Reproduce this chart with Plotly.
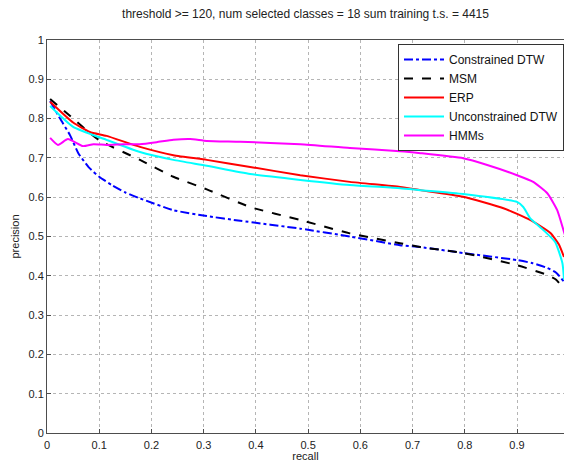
import plotly.graph_objects as go

# ---- data ----
recall_cdtw = [0.006, 0.025, 0.044, 0.06, 0.08, 0.10, 0.125, 0.15, 0.178, 0.242, 0.306, 0.37, 0.485, 0.58, 0.676, 0.715, 0.797, 0.9, 0.93, 0.958, 0.975, 0.99]
prec_cdtw = [0.845, 0.80, 0.758, 0.712, 0.676, 0.652, 0.63, 0.612, 0.597, 0.567, 0.552, 0.54, 0.52, 0.50, 0.478, 0.473, 0.458, 0.44, 0.432, 0.42, 0.408, 0.385]

recall_msm = [0.006, 0.05, 0.1, 0.178, 0.242, 0.306, 0.389, 0.485, 0.58, 0.676, 0.715, 0.797, 0.9, 0.958, 0.975, 0.99]
prec_msm = [0.85, 0.80, 0.745, 0.695, 0.652, 0.62, 0.575, 0.542, 0.508, 0.483, 0.473, 0.458, 0.427, 0.402, 0.39, 0.365]

recall_erp = [0.006, 0.05, 0.082, 0.114, 0.178, 0.242, 0.306, 0.389, 0.485, 0.58, 0.676, 0.715, 0.797, 0.874, 0.925, 0.964, 0.98, 0.99]
prec_erp = [0.843, 0.79, 0.766, 0.756, 0.728, 0.707, 0.695, 0.677, 0.656, 0.639, 0.626, 0.618, 0.601, 0.572, 0.542, 0.509, 0.48, 0.448]

recall_udtw = [0.006, 0.05, 0.114, 0.178, 0.242, 0.306, 0.389, 0.485, 0.58, 0.676, 0.715, 0.797, 0.9, 0.912, 0.925, 0.95, 0.973, 0.987, 0.99]
prec_udtw = [0.832, 0.779, 0.746, 0.715, 0.695, 0.68, 0.659, 0.644, 0.631, 0.623, 0.618, 0.608, 0.588, 0.575, 0.547, 0.517, 0.486, 0.432, 0.39]

recall_hmm = [0.006, 0.021, 0.04, 0.069, 0.089, 0.114, 0.146, 0.178, 0.21, 0.242, 0.274, 0.306, 0.37, 0.485, 0.58, 0.676, 0.715, 0.797, 0.843, 0.9, 0.931, 0.958, 0.977, 0.989, 0.995]
prec_hmm = [0.751, 0.733, 0.748, 0.730, 0.735, 0.733, 0.735, 0.735, 0.74, 0.746, 0.748, 0.743, 0.741, 0.735, 0.725, 0.717, 0.712, 0.699, 0.682, 0.656, 0.639, 0.61, 0.567, 0.516, 0.49]

x_ticks = [0, 0.1, 0.2, 0.3, 0.4, 0.5, 0.6, 0.7, 0.8, 0.9]
x_tick_labels = ["0", "0.1", "0.2", "0.3", "0.4", "0.5", "0.6", "0.7", "0.8", "0.9"]
y_ticks = [0, 0.1, 0.2, 0.3, 0.4, 0.5, 0.6, 0.7, 0.8, 0.9, 1]
y_tick_labels = ["0", "0.1", "0.2", "0.3", "0.4", "0.5", "0.6", "0.7", "0.8", "0.9", "1"]

series = [
    ("Constrained DTW", recall_cdtw, prec_cdtw, "#0000ff", "dashdot"),
    ("MSM", recall_msm, prec_msm, "#000000", "dash"),
    ("ERP", recall_erp, prec_erp, "#ff0000", "solid"),
    ("Unconstrained DTW", recall_udtw, prec_udtw, "#00ffff", "solid"),
    ("HMMs", recall_hmm, prec_hmm, "#ff00ff", "solid"),
]

FONT = "Liberation Sans, Arial, sans-serif"

fig = go.Figure()
for name, x, y, color, dash in series:
    fig.add_trace(go.Scatter(
        x=x, y=y, mode="lines", name=name,
        line=dict(color=color, width=2, dash=dash, shape="spline", smoothing=0.5),
    ))

axis_color = "#4d4d4d"
fig.update_layout(
    width=564, height=462,
    margin=dict(l=47, r=0, t=40, b=29),
    paper_bgcolor="white", plot_bgcolor="white",
    font=dict(family=FONT, size=11, color="#222222"),
    title=dict(
        text="threshold >= 120, num selected classes = 18 sum training t.s. = 4415",
        x=0.5, xref="paper", xanchor="center",
        y=1 - 14 / 462, yref="container", yanchor="middle",
        font=dict(family=FONT, size=12, color="#222222"),
    ),
    showlegend=True,
    legend=dict(
        x=1.0, y=0.99, xanchor="right", yanchor="top",
        bgcolor="white", bordercolor="#333333", borderwidth=1,
        font=dict(family=FONT, size=12, color="#111111"),
        itemwidth=40, tracegroupgap=0,
    ),
)
fig.update_xaxes(
    range=[0, 0.99], tickvals=x_ticks, ticktext=x_tick_labels,
    showgrid=True, gridcolor="#b5b5b5", griddash="dot", gridwidth=1,
    zeroline=False, showline=True, linecolor=axis_color, linewidth=1, mirror=True,
    ticks="inside", ticklen=4, tickcolor=axis_color, ticklabelstandoff=2,
    automargin=False,
    title=dict(text="recall", standoff=1, font=dict(family=FONT, size=11)),
    tickfont=dict(family=FONT, size=11, color="#222222"),
)
fig.update_yaxes(
    range=[0, 1], tickvals=y_ticks, ticktext=y_tick_labels,
    showgrid=True, gridcolor="#b5b5b5", griddash="dot", gridwidth=1,
    zeroline=False, showline=True, linecolor=axis_color, linewidth=1, mirror=False,
    ticks="inside", ticklen=4, tickcolor=axis_color, automargin=False,
    title=dict(text="precision", standoff=6, font=dict(family=FONT, size=11)),
    tickfont=dict(family=FONT, size=11, color="#222222"),
)

fig.write_html("out.html")
